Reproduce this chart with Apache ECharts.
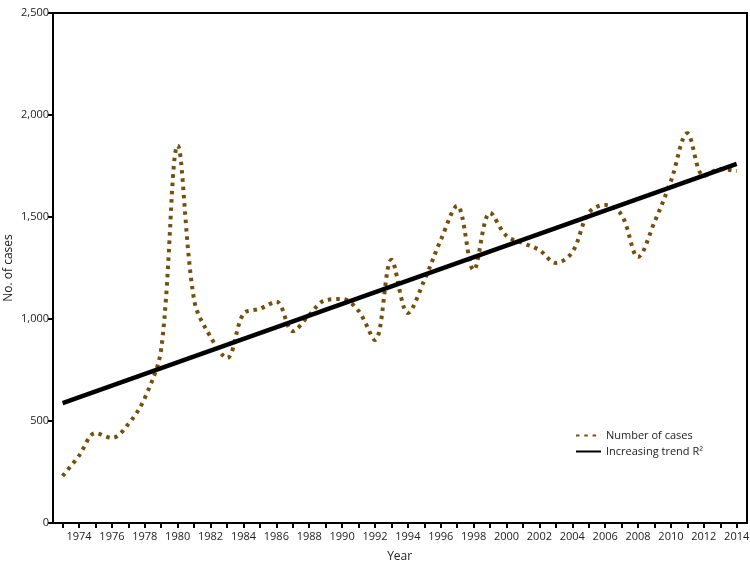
<!DOCTYPE html>
<html>
<head>
<meta charset="utf-8">
<script src="https://cdn.jsdelivr.net/npm/echarts@6/dist/echarts.min.js"></script>
<style>html,body{margin:0;padding:0;background:#fff;}#c{width:750px;height:567px;}</style>
</head>
<body>
<div id="c"></div>
<script>
const years = [1973,1974,1975,1976,1977,1978,1979,1980,1981,1982,1983,1984,1985,1986,1987,1988,1989,1990,1991,1992,1993,1994,1995,1996,1997,1998,1999,2000,2001,2002,2003,2004,2005,2006,2007,2008,2009,2010,2011,2012,2013,2014];
const cases = [230,330,441,417,485,613,855,1850,1093,912,809,1025,1050,1085,940,1020,1093,1098,1040,897,1290,1029,1190,1387,1555,1240,1520,1407,1372,1338,1275,1328,1520,1559,1510,1304,1475,1676,1910,1701,1735,1725];
const trendYears = [1973, 2014];
const trendValues = [588, 1760];
const yTicks = [0, 500, 1000, 1500, 2000, 2500];

const FONT = 'Open Sans';
const chart = echarts.init(document.getElementById('c'), null, {renderer: 'canvas'});
chart.setOption({
  animation: false,
  backgroundColor: '#fff',
  textStyle: {fontFamily: FONT},
  grid: [
    {left: 53, right: 3, top: 13, bottom: 44, show: true, borderColor: '#000', borderWidth: 2,
     backgroundColor: 'transparent', containLabel: false, outerBoundsMode: 'none'},
    {left: 62.6, right: 13.3, top: 13, bottom: 44, containLabel: false, outerBoundsMode: 'none'}
  ],
  xAxis: [
    {gridIndex: 0, type: 'value', show: false, min: 0, max: 1},
    {gridIndex: 1, type: 'value', min: years[0], max: years[years.length - 1], interval: 1,
     splitLine: {show: false}, axisLine: {show: false},
     axisTick: {show: true, length: 5, lineStyle: {color: '#000', width: 2}},
     axisLabel: {color: '#222', fontFamily: FONT, fontSize: 11, margin: 8,
       formatter: v => (v % 2 === 0 ? String(v) : '')},
     name: 'Year', nameLocation: 'middle', nameGap: 28, nameMoveOverlap: false,
     nameTextStyle: {color: '#222', fontFamily: FONT, fontSize: 12}}
  ],
  yAxis: [
    {gridIndex: 0, type: 'value', min: yTicks[0], max: yTicks[yTicks.length - 1], interval: 500,
     splitLine: {show: false}, axisLine: {show: false},
     axisTick: {show: true, length: 5, lineStyle: {color: '#000', width: 2}},
     axisLabel: {color: '#222', fontFamily: FONT, fontSize: 11, margin: 4,
       formatter: v => v.toLocaleString('en-US')},
     name: 'No. of cases', nameLocation: 'middle', nameGap: 38, nameRotate: 90, nameMoveOverlap: false,
     nameTextStyle: {color: '#222', fontFamily: FONT, fontSize: 12}},
    {gridIndex: 1, type: 'value', show: false, min: yTicks[0], max: yTicks[yTicks.length - 1], interval: 500}
  ],
  legend: {
    orient: 'vertical', left: 570, top: 425, itemGap: 5, itemWidth: 25, itemHeight: 10,
    itemStyle: {opacity: 0},
    textStyle: {color: '#222', fontFamily: FONT, fontSize: 11},
    data: ['Number of cases', 'Increasing trend R²']
  },
  series: [
    {name: 'Number of cases', type: 'line', xAxisIndex: 1, yAxisIndex: 1,
     data: years.map((y, i) => [y, cases[i]]),
     smooth: 0.35, showSymbol: false, symbol: 'none',
     lineStyle: {color: '#74500f', width: 4, type: [3.5, 4.8], cap: 'butt'},
     itemStyle: {color: '#74500f'}},
    {name: 'Increasing trend R²', type: 'line', xAxisIndex: 1, yAxisIndex: 1,
     data: trendYears.map((y, i) => [y, trendValues[i]]),
     showSymbol: false, symbol: 'none',
     lineStyle: {color: '#000', width: 4.5}, itemStyle: {color: '#000'}}
  ]
});
</script>
</body>
</html>
